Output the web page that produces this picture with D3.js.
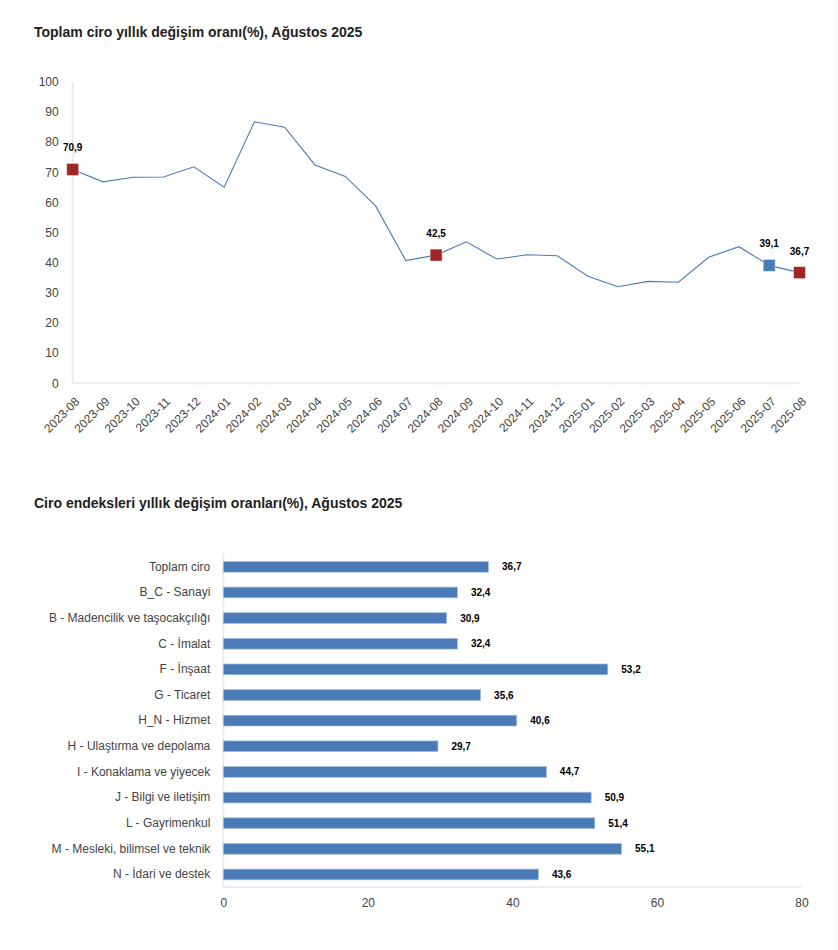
<!DOCTYPE html>
<html>
<head>
<meta charset="utf-8">
<script src="https://cdn.jsdelivr.net/npm/d3@7"></script>
<style>
  body { margin: 0; background: #fff; }
  svg { display: block; font-family: "Liberation Sans", Arial, Helvetica, sans-serif; }
  .title { font-size: 14px; font-weight: bold; fill: #222; }
  .tick text { font-size: 12px; fill: #444; }
  .etiket { font-size: 10px; font-weight: bold; fill: #000; }
  .eksen { stroke: #ebebeb; stroke-width: 2; }
</style>
</head>
<body>
<script>
// Toplam ciro yıllık değişim oranı
var aylar = ["2023-08","2023-09","2023-10","2023-11","2023-12","2024-01","2024-02","2024-03",
  "2024-04","2024-05","2024-06","2024-07","2024-08","2024-09","2024-10","2024-11","2024-12",
  "2025-01","2025-02","2025-03","2025-04","2025-05","2025-06","2025-07","2025-08"];
var degisim = [70.9, 66.8, 68.3, 68.4, 71.8, 65.0, 86.7, 84.9, 72.4, 68.6, 58.8, 40.7,
  42.5, 46.9, 41.2, 42.6, 42.3, 35.6, 32.0, 33.8, 33.5, 41.8, 45.3, 39.1, 36.7];
// işaretlenen aylar: kırmızı = aynı ay, mavi = önceki ay
var kirmiziAylar = ["2023-08", "2024-08", "2025-08"];
var maviAylar = ["2025-07"];
var yTikler = [0, 10, 20, 30, 40, 50, 60, 70, 80, 90, 100];

// Ciro endeksleri
var sektorler = ["Toplam ciro", "B_C - Sanayi", "B - Madencilik ve taşocakçılığı", "C - İmalat",
  "F - İnşaat", "G - Ticaret", "H_N - Hizmet", "H - Ulaştırma ve depolama",
  "I - Konaklama ve yiyecek", "J - Bilgi ve iletişim", "L - Gayrimenkul",
  "M - Mesleki, bilimsel ve teknik", "N - İdari ve destek"];
var oranlar = [36.7, 32.4, 30.9, 32.4, 53.2, 35.6, 40.6, 29.7, 44.7, 50.9, 51.4, 55.1, 43.6];
var xTikler = [0, 20, 40, 60, 80];

var mavi = "#4a7bb7", kirmizi = "#a02625";
var virgul = function(v) { return d3.format(".1f")(v).replace(".", ","); };

var svg = d3.select("body").append("svg")
    .attr("width", 838)
    .attr("height", 950);

// sağ kenar çizgisi
svg.append("line").attr("x1", 836.5).attr("x2", 836.5).attr("y1", 0).attr("y2", 950)
    .attr("stroke", "#f2f2f2");

// ---------- Çizgi grafik ----------
svg.append("text").attr("x", 34).attr("y", 37).attr("class", "title")
    .text("Toplam ciro yıllık değişim oranı(%), Ağustos 2025");

var x1 = d3.scalePoint().domain(aylar).range([72.7, 799.5]);
var y1 = d3.scaleLinear().domain([0, 100]).range([383.3, 81.7]);

var g1 = svg.append("g");

g1.append("line").attr("class", "eksen")
    .attr("x1", x1.range()[0]).attr("x2", x1.range()[0])
    .attr("y1", y1(100)).attr("y2", y1(0));
g1.append("line").attr("class", "eksen")
    .attr("x1", x1.range()[0]).attr("x2", x1.range()[1] + 1)
    .attr("y1", y1(0)).attr("y2", y1(0));

var yEksen = g1.append("g")
    .attr("transform", "translate(" + (x1.range()[0] - 14) + ",0)")
    .call(d3.axisLeft(y1).tickValues(yTikler).tickSize(0).tickPadding(0));
yEksen.select(".domain").remove();

var xEksen = g1.append("g")
    .attr("transform", "translate(0," + (y1(0) + 8) + ")")
    .call(d3.axisBottom(x1).tickSize(0).tickPadding(0));
xEksen.select(".domain").remove();
xEksen.selectAll("text")
    .attr("text-anchor", "end")
    .attr("dy", "0.35em")
    .attr("transform", "translate(4,8) rotate(-45)");

var cizgi = d3.line()
    .x(function(d, i) { return x1(aylar[i]); })
    .y(function(d) { return y1(d); });

g1.append("path").datum(degisim)
    .attr("fill", "none")
    .attr("stroke", mavi)
    .attr("stroke-width", 1.1)
    .attr("d", cizgi);

var isaretli = aylar.map(function(a, i) { return { ay: a, v: degisim[i] }; })
    .filter(function(d) { return kirmiziAylar.indexOf(d.ay) >= 0 || maviAylar.indexOf(d.ay) >= 0; });

g1.selectAll("rect.isaret").data(isaretli).enter().append("rect")
    .attr("class", "isaret")
    .attr("x", function(d) { return x1(d.ay) - 6; })
    .attr("y", function(d) { return y1(d.v) - 6; })
    .attr("width", 12).attr("height", 12)
    .attr("fill", function(d) { return maviAylar.indexOf(d.ay) >= 0 ? mavi : kirmizi; })
    .attr("stroke", "#fff").attr("stroke-opacity", 0.45).attr("stroke-width", 1);

g1.selectAll("text.etiket").data(isaretli).enter().append("text")
    .attr("class", "etiket")
    .attr("x", function(d) { return x1(d.ay); })
    .attr("y", function(d) { return y1(d.v) - 18; })
    .attr("text-anchor", "middle")
    .text(function(d) { return virgul(d.v); });

// ---------- Çubuk grafik ----------
svg.append("text").attr("x", 34).attr("y", 508).attr("class", "title")
    .text("Ciro endeksleri yıllık değişim oranları(%), Ağustos 2025");

var x2 = d3.scaleLinear().domain([0, 80]).range([223.3, 801.5]);
var y2 = d3.scaleBand().domain(sektorler).range([554, 887.3]).paddingInner(0.58).paddingOuter(0.29);

var g2 = svg.append("g");

g2.append("line").attr("class", "eksen")
    .attr("x1", x2(0)).attr("x2", x2(0))
    .attr("y1", 553).attr("y2", 887.3);
g2.append("line").attr("class", "eksen")
    .attr("x1", x2(0)).attr("x2", x2(80))
    .attr("y1", 887.3).attr("y2", 887.3);

var kategoriEksen = g2.append("g")
    .attr("transform", "translate(" + (x2(0) - 13) + ",0)")
    .call(d3.axisLeft(y2).tickSize(0).tickPadding(0));
kategoriEksen.select(".domain").remove();

var degerEksen = g2.append("g")
    .attr("transform", "translate(0,898)")
    .call(d3.axisBottom(x2).tickValues(xTikler).tickSize(0).tickPadding(0));
degerEksen.select(".domain").remove();

g2.selectAll("rect.cubuk").data(oranlar).enter().append("rect")
    .attr("class", "cubuk")
    .attr("x", x2(0))
    .attr("y", function(d, i) { return y2(sektorler[i]); })
    .attr("width", function(d) { return x2(d) - x2(0); })
    .attr("height", y2.bandwidth())
    .attr("fill", mavi)
    .attr("stroke", "#a9c1e2").attr("stroke-width", 0.7);

g2.selectAll("text.deger").data(oranlar).enter().append("text")
    .attr("class", "etiket deger")
    .attr("x", function(d) { return x2(d) + 13.5; })
    .attr("y", function(d, i) { return y2(sektorler[i]) + y2.bandwidth() / 2; })
    .attr("dy", "0.35em")
    .text(function(d) { return virgul(d); });
</script>
</body>
</html>
